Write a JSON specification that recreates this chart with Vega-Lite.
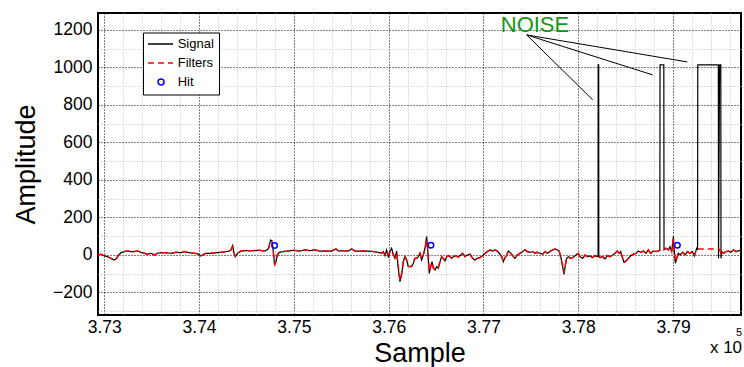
{
  "$schema": "https://vega.github.io/schema/vega-lite/v6.json",
  "width": 643,
  "height": 302,
  "autosize": {"type": "none"},
  "padding": {"left": 98, "top": 13, "right": 3, "bottom": 52},
  "background": "#ffffff",
  "datasets": {
    "trace": [
      {"Sample": 372934, "Signal": 0, "Filters": 0},
      {"Sample": 372965, "Signal": 4, "Filters": 4},
      {"Sample": 373000, "Signal": -5, "Filters": -5},
      {"Sample": 373035, "Signal": -9, "Filters": -9},
      {"Sample": 373070, "Signal": -18, "Filters": -18},
      {"Sample": 373105, "Signal": -27, "Filters": -25},
      {"Sample": 373130, "Signal": -18, "Filters": -18},
      {"Sample": 373151, "Signal": 0, "Filters": 0},
      {"Sample": 373176, "Signal": 12, "Filters": 12},
      {"Sample": 373211, "Signal": 18, "Filters": 18},
      {"Sample": 373246, "Signal": 21, "Filters": 21},
      {"Sample": 373281, "Signal": 18, "Filters": 18},
      {"Sample": 373316, "Signal": 18, "Filters": 18},
      {"Sample": 373352, "Signal": 21, "Filters": 21},
      {"Sample": 373387, "Signal": 14, "Filters": 14},
      {"Sample": 373422, "Signal": 9, "Filters": 9},
      {"Sample": 373457, "Signal": 4, "Filters": 4},
      {"Sample": 373492, "Signal": 9, "Filters": 9},
      {"Sample": 373527, "Signal": 0, "Filters": 0},
      {"Sample": 373563, "Signal": 9, "Filters": 9},
      {"Sample": 373598, "Signal": 12, "Filters": 12},
      {"Sample": 373650, "Signal": 12, "Filters": 12},
      {"Sample": 373703, "Signal": 9, "Filters": 9},
      {"Sample": 373756, "Signal": 14, "Filters": 14},
      {"Sample": 373809, "Signal": 12, "Filters": 12},
      {"Sample": 373844, "Signal": 18, "Filters": 18},
      {"Sample": 373897, "Signal": 12, "Filters": 12},
      {"Sample": 373949, "Signal": 9, "Filters": 9},
      {"Sample": 373984, "Signal": 7, "Filters": 7},
      {"Sample": 374020, "Signal": -5, "Filters": -5},
      {"Sample": 374037, "Signal": 0, "Filters": 0},
      {"Sample": 374072, "Signal": 9, "Filters": 9},
      {"Sample": 374125, "Signal": 9, "Filters": 9},
      {"Sample": 374178, "Signal": 12, "Filters": 12},
      {"Sample": 374231, "Signal": 14, "Filters": 14},
      {"Sample": 374284, "Signal": 18, "Filters": 18},
      {"Sample": 374319, "Signal": 21, "Filters": 21},
      {"Sample": 374336, "Signal": 27, "Filters": 27},
      {"Sample": 374354, "Signal": 50, "Filters": 44},
      {"Sample": 374368, "Signal": 9, "Filters": 9},
      {"Sample": 374382, "Signal": -9, "Filters": -7},
      {"Sample": 374407, "Signal": 9, "Filters": 9},
      {"Sample": 374442, "Signal": 21, "Filters": 21},
      {"Sample": 374495, "Signal": 23, "Filters": 23},
      {"Sample": 374565, "Signal": 23, "Filters": 23},
      {"Sample": 374635, "Signal": 25, "Filters": 25},
      {"Sample": 374695, "Signal": 21, "Filters": 21},
      {"Sample": 374730, "Signal": 32, "Filters": 32},
      {"Sample": 374755, "Signal": 80, "Filters": 72},
      {"Sample": 374769, "Signal": 75, "Filters": 70},
      {"Sample": 374783, "Signal": 18, "Filters": 18},
      {"Sample": 374797, "Signal": -53, "Filters": -50},
      {"Sample": 374811, "Signal": -36, "Filters": -36},
      {"Sample": 374825, "Signal": 0, "Filters": 0},
      {"Sample": 374846, "Signal": 14, "Filters": 14},
      {"Sample": 374888, "Signal": 18, "Filters": 18},
      {"Sample": 374941, "Signal": 21, "Filters": 21},
      {"Sample": 374994, "Signal": 25, "Filters": 25},
      {"Sample": 375064, "Signal": 21, "Filters": 21},
      {"Sample": 375117, "Signal": 27, "Filters": 27},
      {"Sample": 375170, "Signal": 23, "Filters": 23},
      {"Sample": 375222, "Signal": 27, "Filters": 27},
      {"Sample": 375275, "Signal": 21, "Filters": 21},
      {"Sample": 375346, "Signal": 21, "Filters": 21},
      {"Sample": 375398, "Signal": 21, "Filters": 21},
      {"Sample": 375444, "Signal": 32, "Filters": 32},
      {"Sample": 375469, "Signal": 21, "Filters": 21},
      {"Sample": 375521, "Signal": 23, "Filters": 23},
      {"Sample": 375574, "Signal": 21, "Filters": 21},
      {"Sample": 375609, "Signal": 32, "Filters": 32},
      {"Sample": 375644, "Signal": 21, "Filters": 21},
      {"Sample": 375697, "Signal": 21, "Filters": 21},
      {"Sample": 375767, "Signal": 21, "Filters": 21},
      {"Sample": 375838, "Signal": 18, "Filters": 18},
      {"Sample": 375890, "Signal": 14, "Filters": 14},
      {"Sample": 375926, "Signal": 9, "Filters": 10},
      {"Sample": 375943, "Signal": 18, "Filters": 14},
      {"Sample": 375961, "Signal": -4, "Filters": 4},
      {"Sample": 375978, "Signal": 27, "Filters": 18},
      {"Sample": 375996, "Signal": -9, "Filters": 2},
      {"Sample": 376013, "Signal": 18, "Filters": 14},
      {"Sample": 376031, "Signal": 36, "Filters": 24},
      {"Sample": 376049, "Signal": 0, "Filters": 4},
      {"Sample": 376066, "Signal": -18, "Filters": -10},
      {"Sample": 376084, "Signal": 21, "Filters": 10},
      {"Sample": 376101, "Signal": -71, "Filters": -60},
      {"Sample": 376119, "Signal": -142, "Filters": -136},
      {"Sample": 376136, "Signal": -107, "Filters": -100},
      {"Sample": 376154, "Signal": -36, "Filters": -36},
      {"Sample": 376172, "Signal": -9, "Filters": -9},
      {"Sample": 376189, "Signal": -27, "Filters": -27},
      {"Sample": 376207, "Signal": -62, "Filters": -60},
      {"Sample": 376224, "Signal": -62, "Filters": -62},
      {"Sample": 376242, "Signal": -62, "Filters": -60},
      {"Sample": 376260, "Signal": -44, "Filters": -44},
      {"Sample": 376277, "Signal": -18, "Filters": -18},
      {"Sample": 376295, "Signal": -18, "Filters": -18},
      {"Sample": 376312, "Signal": -9, "Filters": -9},
      {"Sample": 376330, "Signal": 9, "Filters": 9},
      {"Sample": 376348, "Signal": -27, "Filters": -22},
      {"Sample": 376365, "Signal": 0, "Filters": 0},
      {"Sample": 376383, "Signal": 36, "Filters": 32},
      {"Sample": 376400, "Signal": 98, "Filters": 80},
      {"Sample": 376407, "Signal": 62, "Filters": 50},
      {"Sample": 376418, "Signal": -18, "Filters": -18},
      {"Sample": 376428, "Signal": -98, "Filters": -88},
      {"Sample": 376443, "Signal": -62, "Filters": -62},
      {"Sample": 376457, "Signal": -36, "Filters": -40},
      {"Sample": 376471, "Signal": -71, "Filters": -68},
      {"Sample": 376488, "Signal": -80, "Filters": -75},
      {"Sample": 376506, "Signal": -62, "Filters": -62},
      {"Sample": 376523, "Signal": -71, "Filters": -66},
      {"Sample": 376541, "Signal": -36, "Filters": -36},
      {"Sample": 376559, "Signal": -9, "Filters": -9},
      {"Sample": 376576, "Signal": -18, "Filters": -18},
      {"Sample": 376594, "Signal": -32, "Filters": -30},
      {"Sample": 376611, "Signal": -9, "Filters": -9},
      {"Sample": 376629, "Signal": -4, "Filters": -4},
      {"Sample": 376647, "Signal": -9, "Filters": -9},
      {"Sample": 376664, "Signal": -18, "Filters": -18},
      {"Sample": 376682, "Signal": -9, "Filters": -9},
      {"Sample": 376710, "Signal": -4, "Filters": -4},
      {"Sample": 376734, "Signal": -12, "Filters": -12},
      {"Sample": 376759, "Signal": 0, "Filters": 0},
      {"Sample": 376780, "Signal": 9, "Filters": 9},
      {"Sample": 376805, "Signal": -9, "Filters": -9},
      {"Sample": 376829, "Signal": 0, "Filters": 0},
      {"Sample": 376857, "Signal": 4, "Filters": 4},
      {"Sample": 376886, "Signal": -18, "Filters": -18},
      {"Sample": 376910, "Signal": -27, "Filters": -27},
      {"Sample": 376935, "Signal": -18, "Filters": -18},
      {"Sample": 376963, "Signal": -14, "Filters": -14},
      {"Sample": 376991, "Signal": -4, "Filters": -4},
      {"Sample": 377016, "Signal": 9, "Filters": 9},
      {"Sample": 377040, "Signal": 18, "Filters": 18},
      {"Sample": 377069, "Signal": 27, "Filters": 27},
      {"Sample": 377097, "Signal": 21, "Filters": 21},
      {"Sample": 377121, "Signal": 27, "Filters": 27},
      {"Sample": 377146, "Signal": 21, "Filters": 21},
      {"Sample": 377174, "Signal": 4, "Filters": 4},
      {"Sample": 377192, "Signal": -9, "Filters": -9},
      {"Sample": 377209, "Signal": -36, "Filters": -32},
      {"Sample": 377227, "Signal": -14, "Filters": -14},
      {"Sample": 377244, "Signal": -4, "Filters": -4},
      {"Sample": 377262, "Signal": 21, "Filters": 21},
      {"Sample": 377280, "Signal": 14, "Filters": 14},
      {"Sample": 377308, "Signal": -4, "Filters": -4},
      {"Sample": 377332, "Signal": -18, "Filters": -18},
      {"Sample": 377357, "Signal": 0, "Filters": 0},
      {"Sample": 377385, "Signal": 9, "Filters": 9},
      {"Sample": 377413, "Signal": 18, "Filters": 18},
      {"Sample": 377438, "Signal": 27, "Filters": 27},
      {"Sample": 377462, "Signal": 18, "Filters": 18},
      {"Sample": 377490, "Signal": 14, "Filters": 14},
      {"Sample": 377519, "Signal": 18, "Filters": 18},
      {"Sample": 377543, "Signal": 9, "Filters": 9},
      {"Sample": 377568, "Signal": 14, "Filters": 14},
      {"Sample": 377596, "Signal": 9, "Filters": 9},
      {"Sample": 377624, "Signal": 4, "Filters": 4},
      {"Sample": 377649, "Signal": 18, "Filters": 18},
      {"Sample": 377673, "Signal": 9, "Filters": 9},
      {"Sample": 377701, "Signal": 18, "Filters": 18},
      {"Sample": 377730, "Signal": 27, "Filters": 27},
      {"Sample": 377754, "Signal": 32, "Filters": 32},
      {"Sample": 377779, "Signal": 27, "Filters": 27},
      {"Sample": 377800, "Signal": 18, "Filters": 18},
      {"Sample": 377818, "Signal": -18, "Filters": -18},
      {"Sample": 377835, "Signal": -62, "Filters": -60},
      {"Sample": 377849, "Signal": -103, "Filters": -95},
      {"Sample": 377863, "Signal": -53, "Filters": -53},
      {"Sample": 377877, "Signal": -18, "Filters": -18},
      {"Sample": 377895, "Signal": -9, "Filters": -9},
      {"Sample": 377920, "Signal": -18, "Filters": -18},
      {"Sample": 377948, "Signal": -12, "Filters": -12},
      {"Sample": 377976, "Signal": 0, "Filters": 0},
      {"Sample": 378000, "Signal": 9, "Filters": 9},
      {"Sample": 378018, "Signal": -9, "Filters": -9},
      {"Sample": 378046, "Signal": -18, "Filters": -18},
      {"Sample": 378071, "Signal": 0, "Filters": 0},
      {"Sample": 378095, "Signal": -9, "Filters": -9},
      {"Sample": 378123, "Signal": -5, "Filters": -5},
      {"Sample": 378148, "Signal": -14, "Filters": -14},
      {"Sample": 378176, "Signal": -4, "Filters": -4},
      {"Sample": 378201, "Signal": -9, "Filters": -9},
      {"Sample": 378209, "Signal": -5, "Filters": -5},
      {"Sample": 378210, "Signal": 1013, "Filters": -6},
      {"Sample": 378215, "Signal": 1013, "Filters": -8},
      {"Sample": 378216, "Signal": -9, "Filters": -9},
      {"Sample": 378229, "Signal": -14, "Filters": -14},
      {"Sample": 378257, "Signal": -9, "Filters": -9},
      {"Sample": 378282, "Signal": -21, "Filters": -21},
      {"Sample": 378306, "Signal": -4, "Filters": -4},
      {"Sample": 378334, "Signal": -9, "Filters": -9},
      {"Sample": 378363, "Signal": 0, "Filters": 0},
      {"Sample": 378387, "Signal": 9, "Filters": 9},
      {"Sample": 378412, "Signal": 21, "Filters": 21},
      {"Sample": 378433, "Signal": 9, "Filters": 9},
      {"Sample": 378447, "Signal": 18, "Filters": 18},
      {"Sample": 378468, "Signal": -18, "Filters": -18},
      {"Sample": 378482, "Signal": -39, "Filters": -39},
      {"Sample": 378503, "Signal": -32, "Filters": -32},
      {"Sample": 378528, "Signal": -18, "Filters": -18},
      {"Sample": 378553, "Signal": -4, "Filters": -4},
      {"Sample": 378581, "Signal": 4, "Filters": 4},
      {"Sample": 378609, "Signal": 9, "Filters": 9},
      {"Sample": 378633, "Signal": 21, "Filters": 21},
      {"Sample": 378658, "Signal": 14, "Filters": 14},
      {"Sample": 378686, "Signal": 21, "Filters": 21},
      {"Sample": 378714, "Signal": 9, "Filters": 9},
      {"Sample": 378739, "Signal": 27, "Filters": 27},
      {"Sample": 378763, "Signal": 9, "Filters": 9},
      {"Sample": 378792, "Signal": 21, "Filters": 21},
      {"Sample": 378820, "Signal": 18, "Filters": 18},
      {"Sample": 378844, "Signal": 21, "Filters": 21},
      {"Sample": 378860, "Signal": 25, "Filters": 25},
      {"Sample": 378862, "Signal": 1013, "Filters": 25},
      {"Sample": 378902, "Signal": 1013, "Filters": 26},
      {"Sample": 378904, "Signal": 27, "Filters": 27},
      {"Sample": 378925, "Signal": 36, "Filters": 36},
      {"Sample": 378950, "Signal": 27, "Filters": 27},
      {"Sample": 378967, "Signal": 44, "Filters": 40},
      {"Sample": 378985, "Signal": 18, "Filters": 18},
      {"Sample": 379003, "Signal": 98, "Filters": 85},
      {"Sample": 379013, "Signal": 18, "Filters": 18},
      {"Sample": 379024, "Signal": -44, "Filters": -35},
      {"Sample": 379038, "Signal": -18, "Filters": -18},
      {"Sample": 379055, "Signal": 9, "Filters": 9},
      {"Sample": 379073, "Signal": 0, "Filters": 0},
      {"Sample": 379101, "Signal": 14, "Filters": 14},
      {"Sample": 379126, "Signal": 0, "Filters": 0},
      {"Sample": 379150, "Signal": 18, "Filters": 18},
      {"Sample": 379178, "Signal": 9, "Filters": 9},
      {"Sample": 379203, "Signal": 18, "Filters": 18},
      {"Sample": 379224, "Signal": -4, "Filters": -4},
      {"Sample": 379249, "Signal": 36, "Filters": 34},
      {"Sample": 379258, "Signal": 27, "Filters": 30},
      {"Sample": 379260, "Signal": 1013, "Filters": 32},
      {"Sample": 379477, "Signal": 1013, "Filters": 32},
      {"Sample": 379479, "Signal": -18, "Filters": 32},
      {"Sample": 379490, "Signal": 1013, "Filters": 30},
      {"Sample": 379503, "Signal": 1013, "Filters": 14},
      {"Sample": 379505, "Signal": -18, "Filters": 10},
      {"Sample": 379512, "Signal": 18, "Filters": 18},
      {"Sample": 379530, "Signal": 9, "Filters": 9},
      {"Sample": 379558, "Signal": 18, "Filters": 18},
      {"Sample": 379583, "Signal": 21, "Filters": 21},
      {"Sample": 379607, "Signal": 14, "Filters": 14},
      {"Sample": 379636, "Signal": 27, "Filters": 27},
      {"Sample": 379664, "Signal": 18, "Filters": 18},
      {"Sample": 379688, "Signal": 21, "Filters": 21},
      {"Sample": 379716, "Signal": 27, "Filters": 27}
    ],
    "hits": [
      {"Sample": 374797, "Amplitude": 50, "series": "Hit"},
      {"Sample": 376446, "Amplitude": 52, "series": "Hit"},
      {"Sample": 379045, "Amplitude": 52, "series": "Hit"}
    ],
    "noise": [
      {"Sample": 378152, "Amplitude": 827},
      {"Sample": 378785, "Amplitude": 960},
      {"Sample": 379150, "Amplitude": 1029}
    ],
    "notes": [
      {"Sample": 377543, "Amplitude": 1191, "note": "NOISE"}
    ],
    "exponent": [
      {"Sample": 379727, "Amplitude": -524, "note": "x 10"}
    ],
    "power": [
      {"Sample": 379727, "Amplitude": -432, "note": "5"}
    ]
  },
  "encoding": {
    "x": {
      "field": "Sample",
      "type": "quantitative",
      "scale": {"domain": [372934, 379716], "nice": false, "zero": false},
      "axis": {
        "values": [373000, 373200, 373400, 373600, 373800, 374000, 374200, 374400, 374600, 374800, 375000, 375200, 375400, 375600, 375800, 376000, 376200, 376400, 376600, 376800, 377000, 377200, 377400, 377600, 377800, 378000, 378200, 378400, 378600, 378800, 379000, 379200, 379400, 379600],
        "labelExpr": "datum.value % 1000 === 0 ? format(datum.value / 100000, '.2f') : ''",
        "labelFontSize": 17.5,
        "labelPadding": 3,
        "labelOverlap": false,
        "labelFlush": false,
        "labelBound": false,
        "ticks": false,
        "grid": true,
        "gridColor": {"condition": {"test": "datum.value % 1000 === 0", "value": "#000000"}, "value": "#bdbdbd"},
        "gridDash": [1, 2],
        "gridWidth": 1,
        "domain": false,
        "title": "Sample",
        "titleFontSize": 27,
        "titleFontWeight": "normal",
        "titlePadding": 5
      }
    },
    "y": {
      "field": "Amplitude",
      "type": "quantitative",
      "scale": {"domain": [-320, 1290], "nice": false, "zero": false},
      "axis": {
        "values": [-300, -200, -100, 0, 100, 200, 300, 400, 500, 600, 700, 800, 900, 1000, 1100, 1200],
        "format": "d",
        "labelExpr": "datum.value % 200 === 0 ? datum.label : ''",
        "labelFontSize": 17.5,
        "labelPadding": 6,
        "labelOverlap": false,
        "labelFlush": false,
        "labelBound": false,
        "ticks": false,
        "grid": true,
        "gridColor": {"condition": {"test": "datum.value % 200 === 0", "value": "#000000"}, "value": "#bdbdbd"},
        "gridDash": [1, 2],
        "gridWidth": 1,
        "domain": false,
        "title": "Amplitude",
        "titleFontSize": 27,
        "titleFontWeight": "normal",
        "titlePadding": 12
      }
    }
  },
  "layer": [
    {
      "data": {"name": "trace"},
      "transform": [{"fold": ["Signal", "Filters"], "as": ["series", "Amplitude"]}],
      "mark": {"type": "line", "strokeCap": "butt"},
      "encoding": {
        "color": {
          "field": "series",
          "type": "nominal",
          "scale": {"domain": ["Signal", "Filters", "Hit"], "range": ["#000000", "#ff0000", "#0000ff"]},
          "legend": {
            "title": null,
            "orient": "none",
            "legendX": 45,
            "legendY": 19.5,
            "padding": 5,
            "rowPadding": 5,
            "strokeColor": "#000000",
            "fillColor": "#ffffff",
            "symbolSize": 36,
            "symbolStrokeWidth": 1.5,
            "symbolType": {"expr": "datum.value === 'Hit' ? 'M1.17,0A1,1 0 1,1 3.17,0A1,1 0 1,1 1.17,0' : 'M-2.17,0H6.17'"},
            "symbolDash": {"expr": "datum.value === 'Filters' ? [6, 4] : []"},
            "symbolFillColor": "transparent",
            "labelOffset": 16.7,
            "labelFontSize": 13,
            "labelColor": "#000000"
          }
        },
        "strokeDash": {
          "field": "series",
          "type": "nominal",
          "scale": {"domain": ["Signal", "Filters"], "range": [[1, 0], [6, 4]]},
          "legend": null
        },
        "strokeWidth": {
          "field": "series",
          "type": "nominal",
          "scale": {"domain": ["Signal", "Filters"], "range": [1.2, 1.5]},
          "legend": null
        }
      }
    },
    {
      "data": {"name": "hits"},
      "mark": {"type": "point", "shape": "circle", "filled": false, "size": 30, "strokeWidth": 1.5, "opacity": 1},
      "encoding": {
        "color": {"field": "series", "type": "nominal"}
      }
    },
    {
      "data": {"name": "noise"},
      "mark": {"type": "rule", "color": "#000000", "strokeWidth": 1},
      "encoding": {
        "x2": {"datum": 377456},
        "y2": {"datum": 1173}
      }
    },
    {
      "data": {"name": "notes"},
      "mark": {"type": "text", "fontSize": 22, "color": "#149614", "align": "center", "baseline": "alphabetic"},
      "encoding": {"text": {"field": "note"}}
    },
    {
      "data": {"name": "exponent"},
      "mark": {"type": "text", "fontSize": 17, "color": "#000000", "align": "right", "baseline": "alphabetic", "clip": false},
      "encoding": {"text": {"field": "note"}}
    },
    {
      "data": {"name": "power"},
      "mark": {"type": "text", "fontSize": 11, "color": "#000000", "align": "right", "baseline": "alphabetic", "clip": false},
      "encoding": {"text": {"field": "note"}}
    }
  ],
  "config": {
    "font": "Liberation Sans",
    "view": {"stroke": "#000000", "strokeWidth": 2},
    "axis": {"labelFont": "Liberation Sans", "titleFont": "Liberation Sans", "labelColor": "#000000", "titleColor": "#000000"},
    "legend": {"labelFont": "Liberation Sans", "strokeWidth": 1},
    "text": {"font": "Liberation Sans"}
  }
}
